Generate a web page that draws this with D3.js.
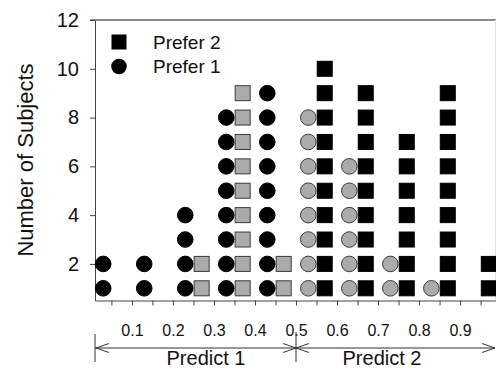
<!DOCTYPE html>
<html>
<head>
<meta charset="utf-8">
<script src="https://cdn.jsdelivr.net/npm/d3@7/dist/d3.min.js"></script>
<style>
  html, body { margin: 0; padding: 0; background: #fff; }
  svg { display: block; font-family: "Liberation Sans", Arial, sans-serif; }
</style>
</head>
<body>
<svg id="chart" width="496" height="370"></svg>
<script>
// Each column is a stack of subjects; circles = prefer option 1, squares = prefer option 2
const circleX      = [0.03, 0.13, 0.23, 0.33, 0.43, 0.53, 0.63, 0.73, 0.83];
const circleCounts = [2, 2, 4, 8, 9, 8, 6, 2, 1];
const squareX      = [0.27, 0.37, 0.47, 0.57, 0.67, 0.77, 0.87, 0.97];
const squareCounts = [2, 9, 2, 10, 9, 7, 9, 2];

const xTickValues  = [0.05, 0.1, 0.15, 0.2, 0.25, 0.3, 0.35, 0.4, 0.45, 0.5,
                      0.55, 0.6, 0.65, 0.7, 0.75, 0.8, 0.85, 0.9, 0.95];
const xTickLabels  = ["0.1", "0.2", "0.3", "0.4", "0.5", "0.6", "0.7", "0.8", "0.9"];
const yTickValues  = [2, 4, 6, 8, 10, 12];
const legendLabels = ["Prefer 2", "Prefer 1"];
const regionLabels = ["Predict 1", "Predict 2"];
const splitPoint   = 0.5;

const svg = d3.select("#chart");

const x = d3.scaleLinear().domain([0.01, 0.99]).range([95, 497]);
const y = d3.scaleLinear().domain([0.5, 12]).range([300.5, 20]);

const AXIS = "#444";
const GRAY = "#ababab";

// frame: top and right edges
svg.append("line")
  .attr("x1", x.range()[0] - 5).attr("x2", x.range()[1])
  .attr("y1", y(12)).attr("y2", y(12))
  .attr("stroke", "#666").attr("stroke-width", 1.5);
svg.append("line")
  .attr("x1", 495.5).attr("x2", 495.5)
  .attr("y1", y(12)).attr("y2", y(0.5))
  .attr("stroke", "#e4e4e4").attr("stroke-width", 1);

// x axis
const xAxis = svg.append("g")
  .attr("transform", `translate(0,${y(0.5)})`)
  .call(d3.axisBottom(x)
    .tickValues(xTickValues)
    .tickSize(5)
    .tickSizeOuter(0)
    .tickPadding(19)
    .tickFormat(d => {
      const i = Math.round(d * 10) - 1;
      return Math.abs(d * 10 - Math.round(d * 10)) < 1e-6 ? xTickLabels[i] : "";
    }));
xAxis.selectAll("path, line").attr("stroke", AXIS);
xAxis.selectAll("text").attr("font-size", 16).attr("fill", "#111")
  .attr("font-family", "'Liberation Sans', Arial, sans-serif");

// y axis
const yAxis = svg.append("g")
  .attr("transform", `translate(${x.range()[0]},0)`)
  .call(d3.axisLeft(y)
    .tickValues(yTickValues)
    .tickSize(5)
    .tickSizeOuter(0)
    .tickPadding(11));
yAxis.selectAll("path, line").attr("stroke", AXIS);
yAxis.selectAll("text").attr("font-size", 20).attr("fill", "#111")
  .attr("font-family", "'Liberation Sans', Arial, sans-serif");

svg.append("text")
  .attr("transform", "rotate(-90)")
  .attr("x", -160).attr("y", 33)
  .attr("text-anchor", "middle")
  .attr("font-size", 22).attr("fill", "#111")
  .text("Number of Subjects");

// expand column counts into stacked points
function stack(xs, counts, shape) {
  const pts = [];
  xs.forEach((xv, i) => {
    for (let k = 1; k <= counts[i]; k++) pts.push({ x: xv, n: k, shape });
  });
  return pts;
}
const circles = stack(circleX, circleCounts, "circle");
const squares = stack(squareX, squareCounts, "square");

// black when the stated preference agrees with the predicted region
const agrees = d => (d.shape === "circle") === (d.x < splitPoint);

const SQ = 15;
svg.append("g").selectAll("rect").data(squares).join("rect")
  .attr("x", d => x(d.x) - SQ / 2)
  .attr("y", d => y(d.n) - SQ / 2)
  .attr("width", SQ).attr("height", SQ)
  .attr("fill", d => agrees(d) ? "#000" : GRAY)
  .attr("stroke", d => agrees(d) ? "#000" : "#3a3a3a")
  .attr("stroke-width", 1);

svg.append("g").selectAll("circle").data(circles).join("circle")
  .attr("cx", d => x(d.x))
  .attr("cy", d => y(d.n))
  .attr("r", 7.8)
  .attr("fill", d => agrees(d) ? "#000" : GRAY)
  .attr("stroke", d => agrees(d) ? "#000" : "#3a3a3a")
  .attr("stroke-width", 1);

// legend
const legend = svg.append("g").attr("transform", "translate(119,42)");
legend.append("rect").attr("x", -7.5).attr("y", -7.5).attr("width", 15).attr("height", 15).attr("fill", "#000");
legend.append("circle").attr("cx", 0).attr("cy", 24.5).attr("r", 7.8).attr("fill", "#000");
legendLabels.forEach((t, i) => {
  legend.append("text")
    .attr("x", 34).attr("y", 6.5 + i * 24.5)
    .attr("font-size", 19).attr("fill", "#111")
    .text(t);
});

// prediction regions annotation below the axis
const ay = 348;
const ann = svg.append("g").attr("stroke", "#333").attr("stroke-width", 1).attr("fill", "none");
const xl = x(0.01), xm = x(splitPoint), xr = 495;
ann.append("line").attr("x1", xl).attr("x2", xr).attr("y1", ay).attr("y2", ay);
ann.append("line").attr("x1", xl).attr("x2", xl).attr("y1", ay - 14).attr("y2", ay + 14);
ann.append("line").attr("x1", xm).attr("x2", xm).attr("y1", ay - 16).attr("y2", ay + 14);
function head(tipX, dir) {
  ann.append("path")
    .attr("d", `M${tipX - dir * 13},${ay - 4.5}L${tipX},${ay}L${tipX - dir * 13},${ay + 4.5}`);
}
head(xl + 1, -1);
head(xm, 1);
head(xm, -1);
head(xr, 1);

svg.append("text").attr("x", 206).attr("y", 365)
  .attr("text-anchor", "middle").attr("font-size", 20).attr("fill", "#111")
  .text(regionLabels[0]);
svg.append("text").attr("x", 382).attr("y", 365)
  .attr("text-anchor", "middle").attr("font-size", 20).attr("fill", "#111")
  .text(regionLabels[1]);
</script>
</body>
</html>
